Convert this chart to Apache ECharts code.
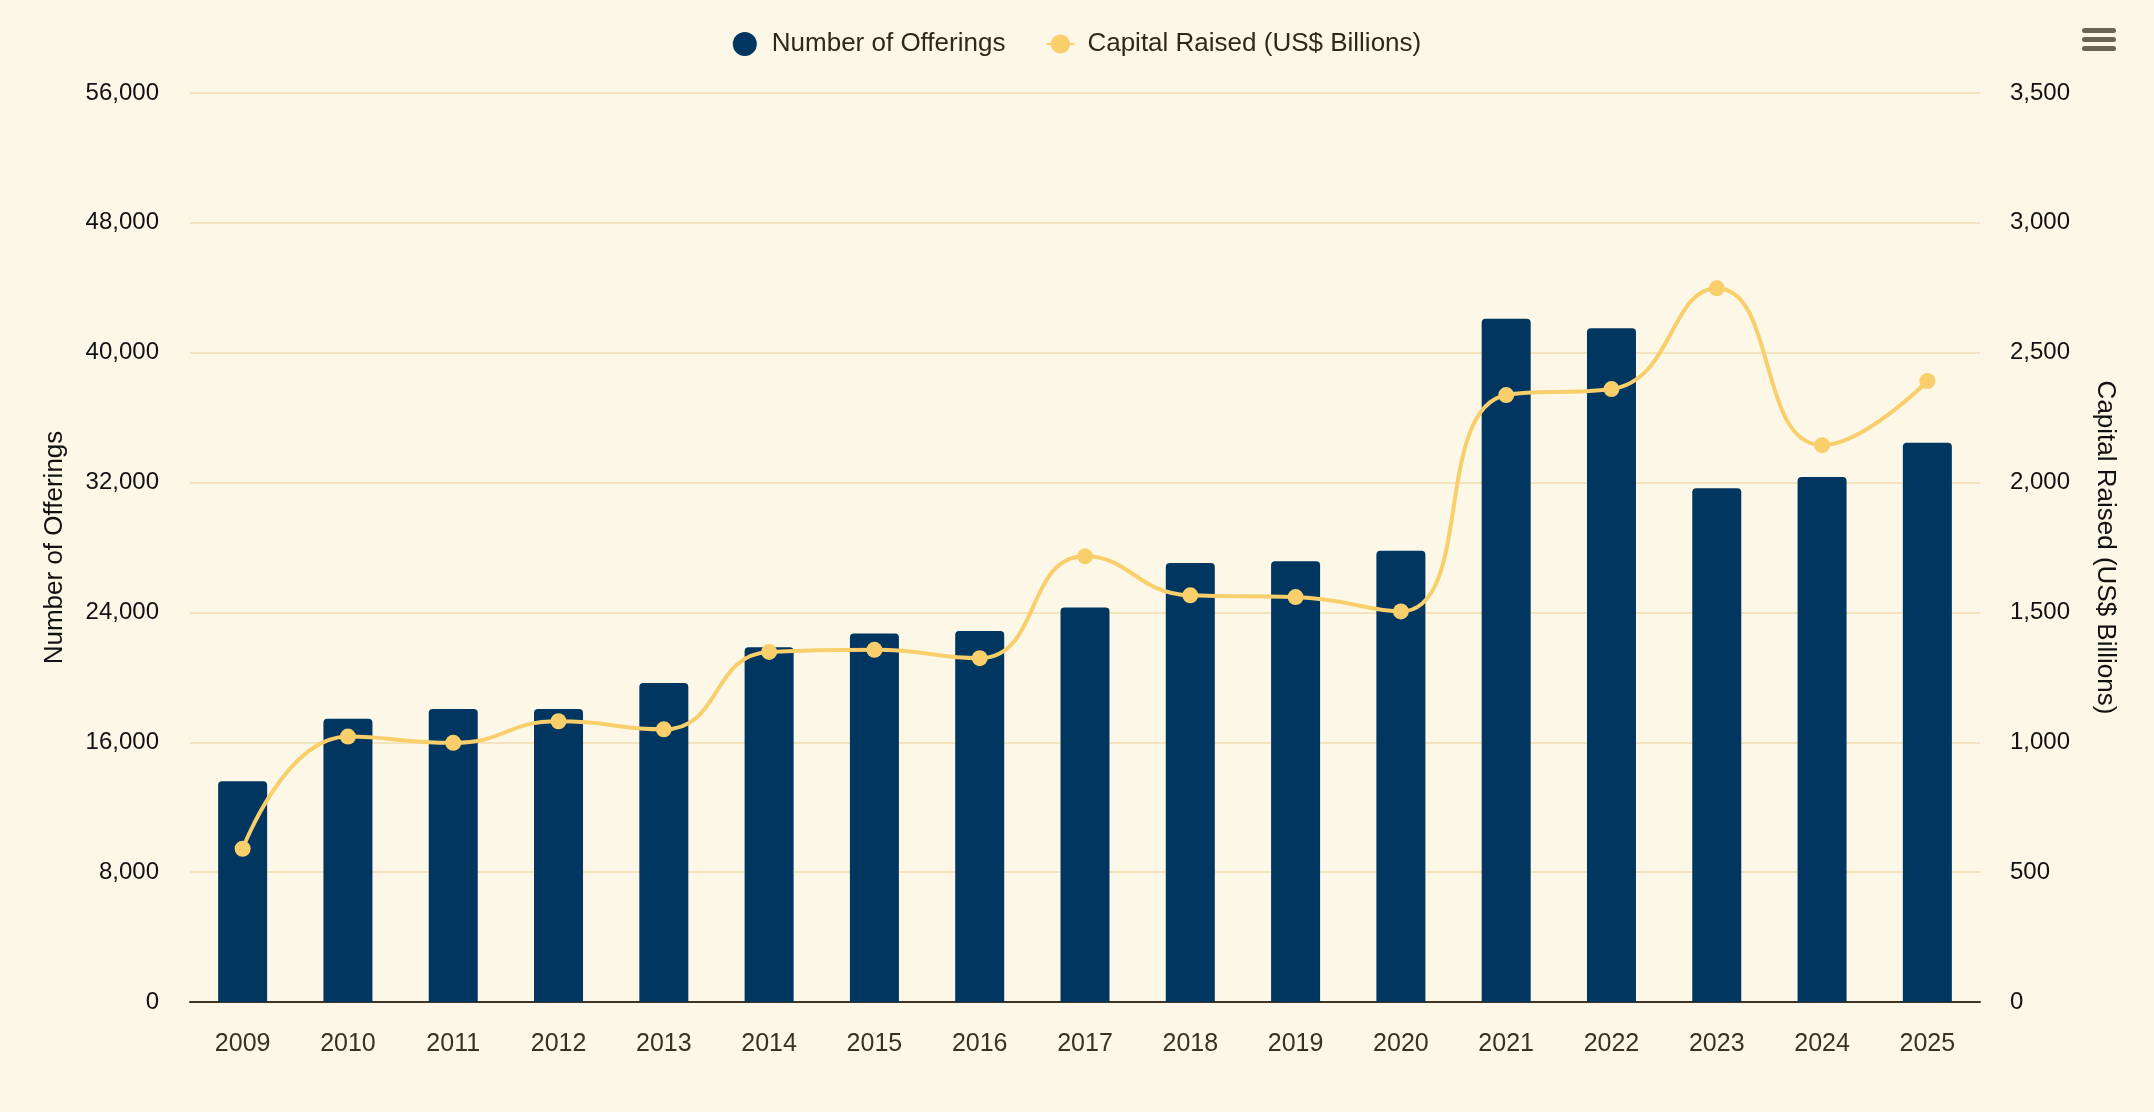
<!DOCTYPE html>
<html>
<head>
<meta charset="utf-8">
<title>Offerings and Capital Raised</title>
<script src="https://cdn.jsdelivr.net/npm/echarts@6/dist/echarts.min.js"></script>
<style>
  html, body { margin: 0; padding: 0; background: #fdf7e8; }
  #chart { width: 2154px; height: 1112px; }
</style>
</head>
<body>
<div id="chart"></div>
<script>
  // data
  var years = ['2009', '2010', '2011', '2012', '2013', '2014', '2015', '2016', '2017',
    '2018', '2019', '2020', '2021', '2022', '2023', '2024', '2025'];
  var offerings = [13600, 17450, 18050, 18050, 19650, 21850, 22700, 22850, 24300,
    27050, 27150, 27800, 42100, 41500, 31650, 32350, 34450];
  var capital = [590, 1022, 998, 1081, 1050, 1348, 1356, 1324, 1716,
    1566, 1559, 1504, 2337, 2360, 2748, 2144, 2391];
  var leftTicks = [0, 56000, 8000];   // min, max, interval
  var rightTicks = [0, 3500, 500];

  var navy = '#003660';
  var gold = '#f9cf6c';
  var font = '"Liberation Sans", Arial, sans-serif';

  function comma(v) {
    return String(v).replace(/\B(?=(\d{3})+(?!\d))/g, ',');
  }

  var myChart = echarts.init(document.getElementById('chart'));

  var option = {
    backgroundColor: '#fdf7e8',
    textStyle: { fontFamily: font },
    legend: {
      top: 26,
      left: 'center',
      itemGap: 40,
      itemWidth: 28,
      itemHeight: 24,
      textStyle: { fontSize: 26, color: '#30281b', fontFamily: font, padding: [0, 0, 0, 8] },
      data: [
        { name: 'Number of Offerings', icon: 'circle' },
        { name: 'Capital Raised (US$ Billions)' }
      ]
    },
    grid: { left: 190, right: 174, top: 93, bottom: 110 },
    xAxis: {
      type: 'category',
      data: years,
      axisTick: { show: false },
      axisLine: { lineStyle: { color: '#3d3424', width: 2 } },
      axisLabel: { margin: 30, fontSize: 25, color: '#3b3122', fontFamily: font }
    },
    yAxis: [{
      type: 'value',
      name: 'Number of Offerings',
      nameLocation: 'middle',
      nameGap: 122,
      nameTextStyle: { fontSize: 26, color: '#111', fontFamily: font },
      min: leftTicks[0],
      max: leftTicks[1],
      interval: leftTicks[2],
      axisLabel: { margin: 31, fontSize: 24, color: '#111', fontFamily: font, formatter: comma },
      axisLine: { show: false },
      splitLine: { lineStyle: { color: '#f4e4bd', width: 2 } }
    }, {
      type: 'value',
      name: 'Capital Raised (US$ Billions)',
      nameLocation: 'middle',
      nameRotate: -90,
      nameGap: 112,
      nameTextStyle: { fontSize: 26, color: '#111', fontFamily: font },
      min: rightTicks[0],
      max: rightTicks[1],
      interval: rightTicks[2],
      axisLabel: { margin: 30, fontSize: 24, color: '#111', fontFamily: font, formatter: comma },
      axisLine: { show: false },
      splitLine: { show: false }
    }],
    series: [{
      name: 'Number of Offerings',
      type: 'bar',
      yAxisIndex: 0,
      barWidth: 49,
      itemStyle: { color: navy, borderRadius: [4, 4, 0, 0] },
      data: offerings,
      z: 2
    }, {
      name: 'Capital Raised (US$ Billions)',
      type: 'line',
      yAxisIndex: 1,
      smooth: 0.5,
      symbol: 'circle',
      symbolSize: 16,
      lineStyle: { color: gold, width: 4 },
      itemStyle: { color: gold },
      data: capital,
      z: 3
    }],
    graphic: [{
      // export menu icon, top right
      type: 'group',
      right: 38,
      top: 28,
      children: [
        { type: 'rect', shape: { x: 0, y: 0, width: 34, height: 5, r: 2.5 }, style: { fill: '#6b6556' } },
        { type: 'rect', shape: { x: 0, y: 9, width: 34, height: 5, r: 2.5 }, style: { fill: '#6b6556' } },
        { type: 'rect', shape: { x: 0, y: 18, width: 34, height: 5, r: 2.5 }, style: { fill: '#6b6556' } }
      ]
    }]
  };

  myChart.setOption(option);
</script>
</body>
</html>
